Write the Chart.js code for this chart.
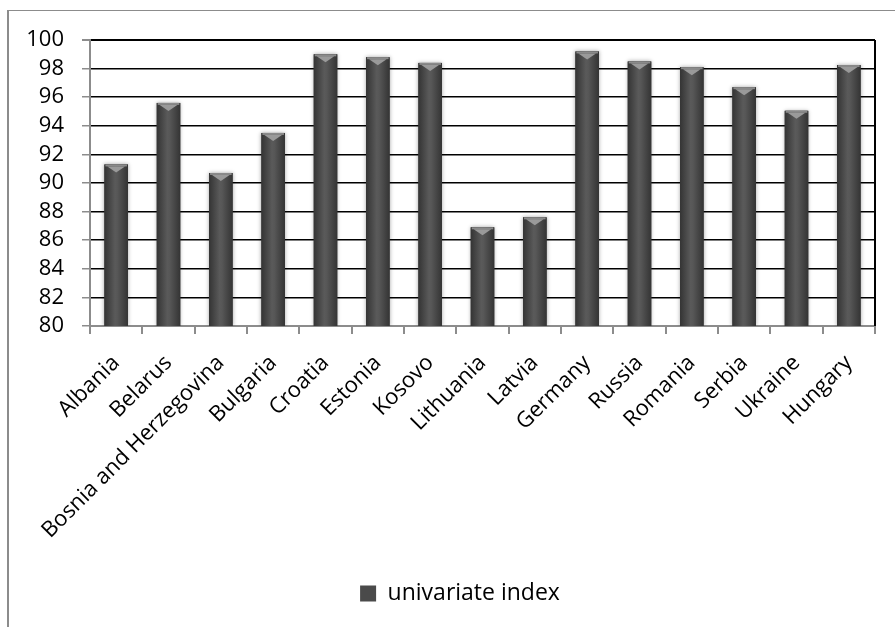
<!DOCTYPE html>
<html>
<head>
<meta charset="utf-8">
<script src="https://cdn.jsdelivr.net/npm/chart.js@4"></script>
<style>
    html, body { margin: 0; padding: 0; background: #fff; }
    #wrap { position: relative; width: 895px; height: 627px; overflow: hidden; }
    #frame { position: absolute; left: 7px; top: 10px; width: 900px; height: 700px;
             border-left: 2px solid #8c8c8c; border-top: 1px solid #8c8c8c; }
    canvas { position: absolute; left: 0; top: 0; }
</style>
</head>
<body>
<div id="wrap">
    <div id="frame"></div>
    <canvas id="indexChart" width="895" height="627"></canvas>
</div>
<script>
// Countries (x axis)
const countries = ['Albania', 'Belarus', 'Bosnia and Herzegovina', 'Bulgaria', 'Croatia', 'Estonia',
    'Kosovo', 'Lithuania', 'Latvia', 'Germany', 'Russia', 'Romania', 'Serbia', 'Ukraine', 'Hungary'];

// univariate index values
const univariateIndex = [91.3, 95.6, 90.7, 93.5, 99.0, 98.8, 98.4, 86.9, 87.6, 99.2, 98.5, 98.1, 96.7, 95.05, 98.25];

// y axis range
const yMin = 80;
const yMax = 100;
const yStep = 2;

const fontFamily = "'Open Sans', 'DejaVu Sans', sans-serif";

// Draws the shaded "cylinder" look of the bars and the right border of the plot
const barStylePlugin = {
    id: 'barStyle',
    afterLayout(chart) {
        // legend sits a bit right of the canvas centre in the original
        const legend = chart.legend;
        const shift = 460 - (legend.left + legend.right) / 2;
        legend.left += shift;
        legend.right += shift;
    },
    afterDatasetsDraw(chart) {
        const ctx = chart.ctx;
        const area = chart.chartArea;
        const meta = chart.getDatasetMeta(0);
        meta.data.forEach(bar => {
            const left = bar.x - bar.width / 2;
            const right = bar.x + bar.width / 2;
            const top = bar.y;
            const bottom = Math.min(bar.base, area.bottom);

            ctx.save();
            ctx.beginPath();
            ctx.rect(area.left, area.top - 2, area.right - area.left, area.bottom - area.top + 2);
            ctx.clip();
            ctx.shadowColor = 'rgba(0, 0, 0, 0.35)';
            ctx.shadowBlur = 4;
            const grad = ctx.createLinearGradient(left, 0, right, 0);
            grad.addColorStop(0, '#343434');
            grad.addColorStop(0.45, '#5a5a5a');
            grad.addColorStop(0.55, '#575757');
            grad.addColorStop(1, '#343434');
            ctx.fillStyle = grad;
            ctx.fillRect(left, top, right - left, bottom - top);
            ctx.shadowBlur = 0;

            // lighter bevel on top
            ctx.fillStyle = '#8a8a8a';
            ctx.fillRect(left + 1, top, right - left - 2, 2);
            ctx.fillStyle = '#9a9a9a';
            ctx.beginPath();
            ctx.moveTo(left + 3, top + 2);
            ctx.lineTo(right - 3, top + 2);
            ctx.lineTo(bar.x, top + 8);
            ctx.closePath();
            ctx.fill();
            ctx.restore();
        });

        // right border of the plot area
        ctx.save();
        ctx.strokeStyle = '#000';
        ctx.lineWidth = 2;
        ctx.beginPath();
        ctx.moveTo(area.right, area.top);
        ctx.lineTo(area.right, area.bottom);
        ctx.stroke();
        ctx.restore();
    }
};

document.addEventListener('DOMContentLoaded', function () {
    const ctx = document.getElementById('indexChart').getContext('2d');

    new Chart(ctx, {
        type: 'bar',
        data: {
            labels: countries,
            datasets: [{
                label: 'univariate index',
                data: univariateIndex,
                backgroundColor: '#4a4a4a',
                borderWidth: 0,
                barPercentage: 0.45,
                categoryPercentage: 1.0
            }]
        },
        options: {
            responsive: false,
            animation: false,
            layout: {
                padding: { top: 40, right: 20, left: 0, bottom: 12 }
            },
            plugins: {
                legend: {
                    display: true,
                    position: 'bottom',
                    labels: {
                        color: '#000',
                        font: { family: fontFamily, size: 23 },
                        boxWidth: 16,
                        boxHeight: 16,
                        padding: 10
                    }
                },
                tooltip: { enabled: false }
            },
            scales: {
                y: {
                    min: yMin,
                    max: yMax,
                    afterFit: scale => { scale.width = 90; },
                    ticks: {
                        stepSize: yStep,
                        autoSkip: false,
                        color: '#000',
                        padding: 18,
                        font: { family: fontFamily, size: 22 }
                    },
                    grid: {
                        color: c => (c.tick && c.tick.value === yMin) ? 'rgba(0,0,0,0)' : '#000',
                        lineWidth: c => (c.tick && c.tick.value === yMax) ? 2 : 1.5,
                        tickColor: '#8c8c8c',
                        tickLength: 8
                    },
                    border: { color: '#8c8c8c', width: 2 }
                },
                x: {
                    afterFit: scale => { scale.height = 246; },
                    ticks: {
                        color: '#000',
                        minRotation: 45,
                        maxRotation: 45,
                        autoSkip: false,
                        padding: 16,
                        font: { family: fontFamily, size: 22 }
                    },
                    grid: {
                        offset: true,
                        drawOnChartArea: false,
                        drawTicks: true,
                        tickLength: 8,
                        tickColor: '#8c8c8c',
                        lineWidth: 2
                    },
                    border: { color: '#8c8c8c', width: 2 }
                }
            }
        },
        plugins: [barStylePlugin]
    });
});
</script>
</body>
</html>
